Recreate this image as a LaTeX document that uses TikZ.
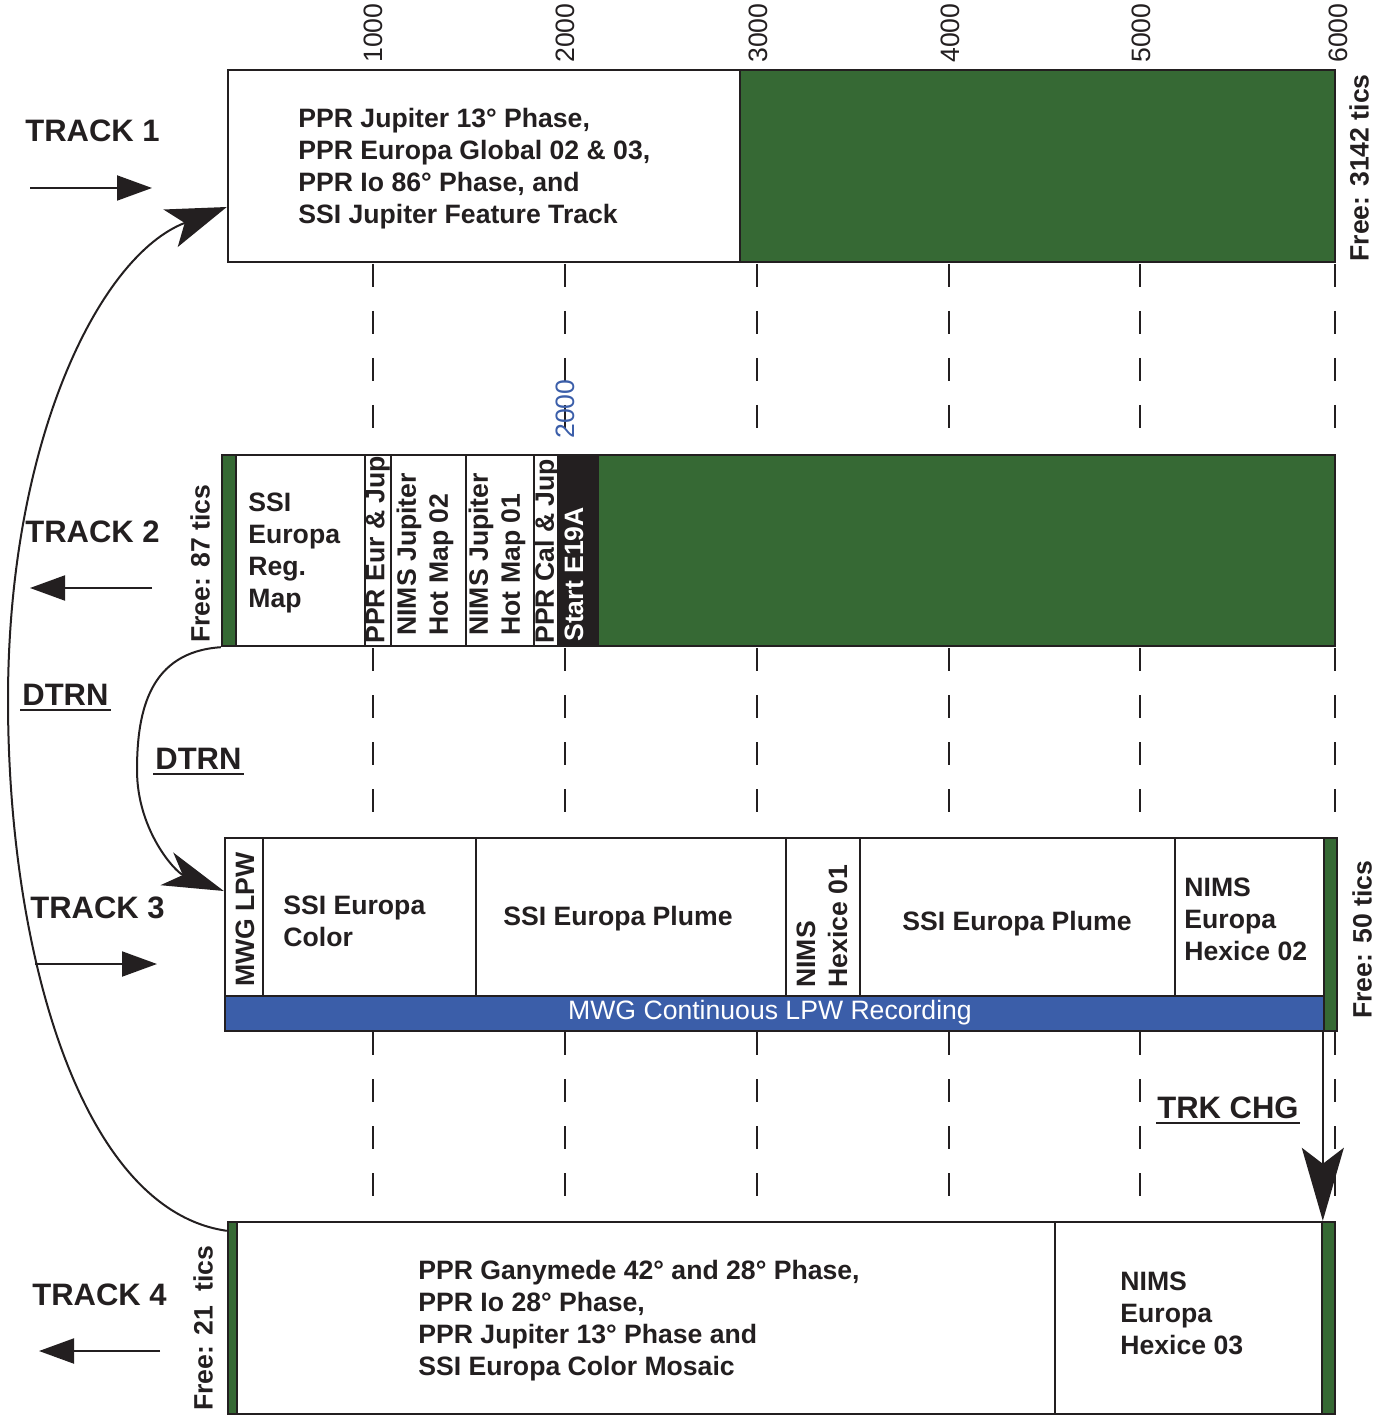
\documentclass[tikz,border=0pt]{standalone}
\usepackage{fontspec}
\setmainfont{Liberation Sans}
\usetikzlibrary{arrows.meta,fit,calc}
\definecolor{tgreen}{RGB}{54,105,52}
\definecolor{tblue}{RGB}{59,94,169}
\definecolor{tink}{RGB}{35,31,32}
\newcommand\blk[6]{\node[cell, fill=#6, fit={(#2,#3) (#4,#5)}] (#1) {};}
\begin{document}
\begin{tikzpicture}[x=0.5pt,y=-0.5pt,
  cell/.style={draw=tink,line width=1.2pt,inner sep=0pt},
  body/.style={font=\bfseries\fontsize{13.3}{16}\selectfont,text=tink,inner sep=0pt,align=left},
  plainlbl/.style={font=\fontsize{13.3}{16}\selectfont,inner sep=0pt},
  head/.style={font=\bfseries\fontsize{15.5}{18}\selectfont,text=tink,inner sep=0pt},
  gridline/.style={draw=tink,line width=0.6pt,dash pattern=on 11.5pt off 12pt},
  shortarrow/.style={draw=tink,line width=1pt,-{Triangle[length=17.5pt,width=12.5pt]}},
  bigarrow/.style={draw=tink,line width=1pt,-{Stealth[length=30pt,width=20pt,inset=7.5pt]}},
  dtrnarrow/.style={draw=tink,line width=1pt,-{Stealth[length=30.5pt,width=17.5pt,inset=8.5pt]}},
  chgarrow/.style={draw=tink,line width=1pt,-{Stealth[length=36.5pt,width=21pt,inset=8pt]}},
  uline/.style={draw=tink,line width=0.8pt}]
\useasboundingbox (0,0) rectangle (1385,1416);

% grid lines
\foreach \gx in {373,565,757,949,1140,1335}{
  \draw[gridline] (\gx,264) -- (\gx,432);
  \draw[gridline] (\gx,648) -- (\gx,816);
  \draw[gridline] (\gx,1032) -- (\gx,1200);
}

% axis labels
\foreach \v/\gx in {1000/373,2000/565,3000/758,4000/950,5000/1141,6000/1338}{
  \node[plainlbl,text=tink,rotate=90,anchor=west] (ax\v) at (\gx,63) {\v};
}
\node[plainlbl,text=tblue,rotate=90,anchor=west] (ax2000b) at (565,439) {2000};

% Track 1
\blk{t1a}{228}{70}{740}{262}{white}
\blk{t1free}{740}{70}{1335}{262}{tgreen}
\node[body,anchor=west] (t1txt) at (298,169) {PPR Jupiter 13° Phase,\\PPR Europa Global 02 \& 03,\\PPR Io 86° Phase, and\\SSI Jupiter Feature Track};
\node[body,rotate=90,anchor=west] (f1) at (1359,262) {Free: 3142 tics};

% Track 2
\blk{t2g}{222}{455}{236}{646}{tgreen}
\blk{t2a}{236}{455}{365}{646}{white}
\blk{t2b}{365}{455}{391}{646}{white}
\blk{t2c}{391}{455}{466}{646}{white}
\blk{t2d}{466}{455}{534}{646}{white}
\blk{t2e}{534}{455}{558}{646}{white}
\blk{t2f}{558}{455}{598}{646}{tink}
\blk{t2free}{598}{455}{1335}{646}{tgreen}
\node[body,anchor=west] (t2atxt) at (248,553) {SSI\\Europa\\Reg.\\Map};
\node[body,rotate=90,anchor=west] (t2btxt) at (378,644) {PPR Eur \& Jup};
\node[body,rotate=90,anchor=west] (t2ctxt) at (425,636) {NIMS Jupiter\\Hot Map 02};
\node[body,rotate=90,anchor=west] (t2dtxt) at (497,636) {NIMS Jupiter\\Hot Map 01};
\node[body,rotate=90,anchor=west] (t2etxt) at (547,644) {PPR Cal \& Jup};
\node[body,text=white,rotate=90,anchor=west] (t2ftxt) at (574,642) {Start E19A};
\node[body,rotate=90,anchor=west] (f2) at (200,643) {Free: 87 tics};

% Track 3
\blk{t3a}{225}{838}{263}{996}{white}
\blk{t3b}{263}{838}{476}{996}{white}
\blk{t3c}{476}{838}{786}{996}{white}
\blk{t3d}{786}{838}{860}{996}{white}
\blk{t3e}{860}{838}{1175}{996}{white}
\blk{t3f}{1175}{838}{1324}{996}{white}
\blk{t3band}{225}{996}{1324}{1031}{tblue}
\blk{t3free}{1324}{838}{1337}{1031}{tgreen}
\node[body,rotate=90,anchor=west] (t3atxt) at (245,987) {MWG LPW};
\node[body,anchor=west] (t3btxt) at (283,921) {SSI Europa\\Color};
\node[body] (t3ctxt) at (618,919) {SSI Europa Plume};
\node[body,rotate=90,anchor=west] (t3dtxt) at (822,988) {NIMS\\Hexice 01};
\node[body] (t3etxt) at (1017,924) {SSI Europa Plume};
\node[body,anchor=west] (t3ftxt) at (1184,919) {NIMS\\Europa\\Hexice 02};
\node[plainlbl,text=white] (t3bandtxt) at (770,1013) {MWG Continuous LPW Recording};
\node[body,rotate=90,anchor=west] (f3) at (1362,1019) {Free: 50 tics};

% Track 4
\blk{t4g}{228}{1222}{237}{1414}{tgreen}
\blk{t4a}{237}{1222}{1055}{1414}{white}
\blk{t4b}{1055}{1222}{1322}{1414}{white}
\blk{t4free}{1322}{1222}{1335}{1414}{tgreen}
\node[body,anchor=west] (t4atxt) at (418,1321) {PPR Ganymede 42° and 28° Phase,\\PPR Io 28° Phase,\\PPR Jupiter 13° Phase and\\SSI Europa Color Mosaic};
\node[body,anchor=west] (t4btxt) at (1120,1313) {NIMS\\Europa\\Hexice 03};
\node[body,rotate=90,anchor=west] (f4) at (203,1411) {Free: 21\ \ tics};

% Track headings and direction arrows
\node[head,anchor=base west] (h1) at (25,142) {TRACK 1};
\node[head,anchor=base west] (h2) at (25,542) {TRACK 2};
\node[head,anchor=base west] (h3) at (30,918) {TRACK 3};
\node[head,anchor=base west] (h4) at (32,1305) {TRACK 4};
\coordinate (a1s) at (30,188);  \coordinate (a1e) at (152,188);
\coordinate (a2s) at (152,588); \coordinate (a2e) at (30,588);
\coordinate (a3s) at (35,964);  \coordinate (a3e) at (157,964);
\coordinate (a4s) at (160,1351); \coordinate (a4e) at (39,1351);
\draw[shortarrow] (a1s) -- (a1e);
\draw[shortarrow] (a2s) -- (a2e);
\draw[shortarrow] (a3s) -- (a3e);
\draw[shortarrow] (a4s) -- (a4e);

% underlined labels
\node[head,anchor=base west] (dtrn1) at (22,705) {DTRN};
\draw[uline] ([xshift=-1pt,yshift=-2.6pt]dtrn1.base west) -- ([xshift=1pt,yshift=-2.6pt]dtrn1.base east);
\node[head,anchor=base west] (dtrn2) at (155,769) {DTRN};
\draw[uline] ([xshift=-1pt,yshift=-2.6pt]dtrn2.base west) -- ([xshift=1pt,yshift=-2.6pt]dtrn2.base east);
\node[head,anchor=base west] (trkchg) at (1157,1118) {TRK CHG};
\draw[uline] ([xshift=-0.5pt,yshift=-2.6pt]trkchg.base west) -- ([xshift=0.5pt,yshift=-2.6pt]trkchg.base east);

% connectors
\draw[bigarrow] ([yshift=-5pt]t4g.north west) .. controls (80,1210) and (8,950) .. (8,700)
  .. controls (8,440) and (100,255) .. ([yshift=-20.5pt]t1a.west);
\draw[dtrnarrow] (t2g.south west) .. controls (150,652) and (137,710) .. (137,770)
  .. controls (137,830) and (175,872) .. ([yshift=13pt]t3a.west);
\draw[chgarrow] (t3free.south west) -- (t3free.south west |- t4free.north);
\end{tikzpicture}
\end{document}
